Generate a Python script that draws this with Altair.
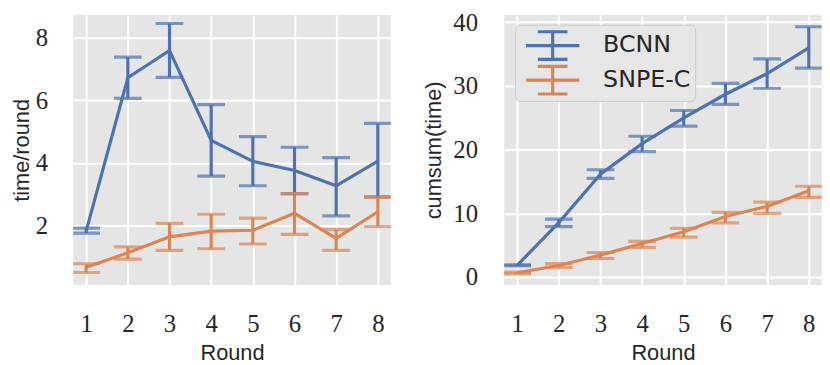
import altair as alt
import pandas as pd

rounds = [1, 2, 3, 4, 5, 6, 7, 8]
series = ["BCNN", "SNPE-C"]
colors = ["#4c72b0", "#dd8452"]

# per-round time (left panel)
bcnn_mean = [1.83, 6.72, 7.59, 4.72, 4.05, 3.76, 3.27, 4.06]
bcnn_lo = [1.76, 6.06, 6.73, 3.58, 3.27, 3.02, 2.31, 2.92]
bcnn_hi = [1.92, 7.38, 8.45, 5.86, 4.84, 4.50, 4.17, 5.26]
snpe_mean = [0.67, 1.13, 1.64, 1.82, 1.85, 2.39, 1.59, 2.44]
snpe_lo = [0.50, 0.93, 1.21, 1.26, 1.41, 1.72, 1.21, 1.97]
snpe_hi = [0.78, 1.32, 2.07, 2.36, 2.24, 3.02, 1.87, 2.90]

# cumulative time (right panel)
bcnn_cum_mean = [1.83, 8.55, 16.15, 20.95, 25.0, 28.7, 31.95, 36.0]
bcnn_cum_lo = [1.76, 7.9, 15.5, 19.7, 23.7, 27.1, 29.65, 32.8]
bcnn_cum_hi = [1.92, 9.1, 16.85, 22.1, 26.15, 30.4, 34.25, 39.3]
snpe_cum_mean = [0.67, 1.80, 3.44, 5.26, 7.11, 9.50, 11.09, 13.53]
snpe_cum_lo = [0.50, 1.5, 2.9, 4.65, 6.25, 8.5, 10.0, 12.5]
snpe_cum_hi = [0.78, 2.1, 3.85, 5.6, 7.65, 10.15, 11.75, 14.25]


def frame(means, los, his):
    rows = []
    for name, m, lo, hi in zip(series, means, los, his):
        for r, a, b, c in zip(rounds, m, lo, hi):
            rows.append({"Round": r, "series": name, "mean": a, "lo": b, "hi": c})
    return pd.DataFrame(rows)


df_left = frame([bcnn_mean, snpe_mean], [bcnn_lo, snpe_lo], [bcnn_hi, snpe_hi])
df_right = frame([bcnn_cum_mean, snpe_cum_mean], [bcnn_cum_lo, snpe_cum_lo],
                 [bcnn_cum_hi, snpe_cum_hi])

SERIF = "Liberation Serif"
SANS = "Liberation Sans"
LEGFONT = "DejaVu Sans"
W, H = 321, 273
LW = 3.2
CAP = 28

errsym = "M-1.8,0H1.8M0,-0.93V0.93M-1,-0.93H1M-1,0.93H1"


def panel(df, ytitle, ydomain, yticks, ylabpad, ytitlepad, legend):
    xenc = alt.X("Round:Q", scale=alt.Scale(domain=[0.69, 8.31], nice=False, zero=False),
                 axis=alt.Axis(values=rounds, title="Round", format="d",
                               labelPadding=27, titlePadding=6))
    yenc = alt.Y("mean:Q", scale=alt.Scale(domain=ydomain, nice=False, zero=False),
                 axis=alt.Axis(values=yticks, title=ytitle, labelPadding=ylabpad,
                               titlePadding=ytitlepad))
    if legend:
        leg = alt.Legend(orient="none", legendX=11, legendY=10, title=None,
                         symbolType=errsym, symbolSize=900, symbolStrokeWidth=LW,
                         symbolFillColor="transparent", symbolOffset=17,
                         labelFont=LEGFONT, labelFontSize=24, labelColor="#262626",
                         labelOffset=34, padding=4, rowPadding=1, clipHeight=34,
                         labelExpr="datum.label + '\u00a0'",
                         fillColor="#e6e6e6", strokeColor="#cccccc", cornerRadius=5)
    else:
        leg = None
    cenc = alt.Color("series:N", scale=alt.Scale(domain=series, range=colors), legend=leg)
    base = alt.Chart(df)
    line = base.mark_line(strokeWidth=LW, clip=True).encode(x=xenc, y=yenc, color=cenc)
    rule = base.mark_rule(strokeWidth=LW, clip=True).encode(
        x="Round:Q", y="lo:Q", y2="hi:Q", color=alt.Color("series:N", legend=None))
    tlo = base.mark_tick(orient="horizontal", size=CAP, thickness=LW, clip=True).encode(
        x="Round:Q", y="lo:Q", color=alt.Color("series:N", legend=None))
    thi = base.mark_tick(orient="horizontal", size=CAP, thickness=LW, clip=True).encode(
        x="Round:Q", y="hi:Q", color=alt.Color("series:N", legend=None))
    return alt.layer(line, rule, tlo, thi).properties(width=W, height=H)


left = panel(df_left, "time/round", [0.105, 8.726], [2, 4, 6, 8], 26, 1.5, False)
right = panel(df_right, "cumsum(time)", [-1.243, 41.165], [0, 10, 20, 30, 40], 27, 7.3, True)

chart = alt.hconcat(left, right, spacing=31.7).resolve_legend(color="independent").configure(
    padding={"left": 3, "top": 0, "right": 0, "bottom": 0}, background="white"
).configure_view(
    fill="#e5e5e5", stroke=None
).configure_axis(
    domain=False, ticks=False, tickSize=0,
    grid=True, gridColor="white", gridWidth=2,
    labelFont=SERIF, labelFontSize=25, labelColor="#262626",
    titleFont=SANS, titleFontSize=22, titleFontWeight="normal", titleColor="#262626",
)

chart.save("out.html", embed_options={"renderer": "svg", "actions": False})
